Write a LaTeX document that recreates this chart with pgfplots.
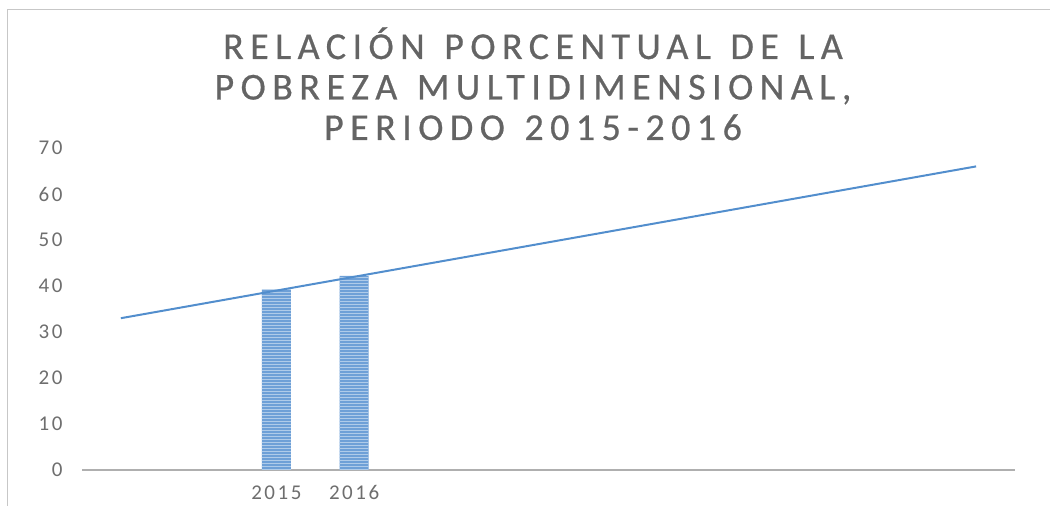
\documentclass[border=0pt]{standalone}
\usepackage{pgfplots}
\pgfplotsset{compat=1.18}
\usepackage{fontspec}
\setmainfont{Carlito}
\newfontfamily\titlefont[LetterSpace=17,FakeBold=0.6,WordSpace=1.3]{Carlito}
\newfontfamily\tickfont[LetterSpace=12]{Carlito}
\usetikzlibrary{patterns}
\definecolor{barblue}{RGB}{110,160,215}
\definecolor{lineblue}{RGB}{82,142,205}
\definecolor{titlegray}{RGB}{100,100,100}
\definecolor{tickgray}{RGB}{110,110,110}
\definecolor{axisgray}{RGB}{175,175,175}
\pgfplotstableread{
x y
3 39.2
4 42.2
}\bars
\pgfplotstableread{
x y
1 33
12 66
}\trend
\begin{document}
\begin{tikzpicture}
\path[use as bounding box] (0,0) rectangle (1050pt,506pt);
\draw[color=black!22, line width=1pt] (7pt,0pt) -- (7pt,496pt) -- (1050pt,496pt);
\node[anchor=base, align=center, text=titlegray, font={\titlefont\fontsize{38}{40.5}\selectfont}] at (533pt,366pt)
 {RELACIÓN PORCENTUAL DE LA\\POBREZA MULTIDIMENSIONAL,\\PERIODO 2015-2016};
\begin{axis}[
  at={(82pt,36pt)}, anchor=origin,
  scale only axis, width=933pt, height=322pt,
  xmin=0.5, xmax=12.5, ymin=0, ymax=70,
  axis x line*=bottom, axis y line*=left,
  x axis line style={draw=axisgray, line width=1.5pt},
  y axis line style={draw=none},
  major tick length=0pt,
  xtick={3,4}, xticklabels={2015,2016},
  ytick={0,10,...,70},
  /pgf/number format/assume math mode=true,
  ticklabel style={font=\tickfont\fontsize{21}{25}\selectfont, text=tickgray},
  yticklabel style={anchor=east, xshift=-16pt},
  xticklabel style={anchor=base, yshift=-30pt},
  clip=false,
]
\addplot[ybar, bar width=29pt, fill=barblue, draw=none,
  postaction={pattern=horizontal lines, pattern color=white!45!barblue}] table[x=x,y=y] {\bars};
\addplot[lineblue, line width=2pt, no marks] table[x=x,y=y] {\trend};
\end{axis}
\end{tikzpicture}
\end{document}
